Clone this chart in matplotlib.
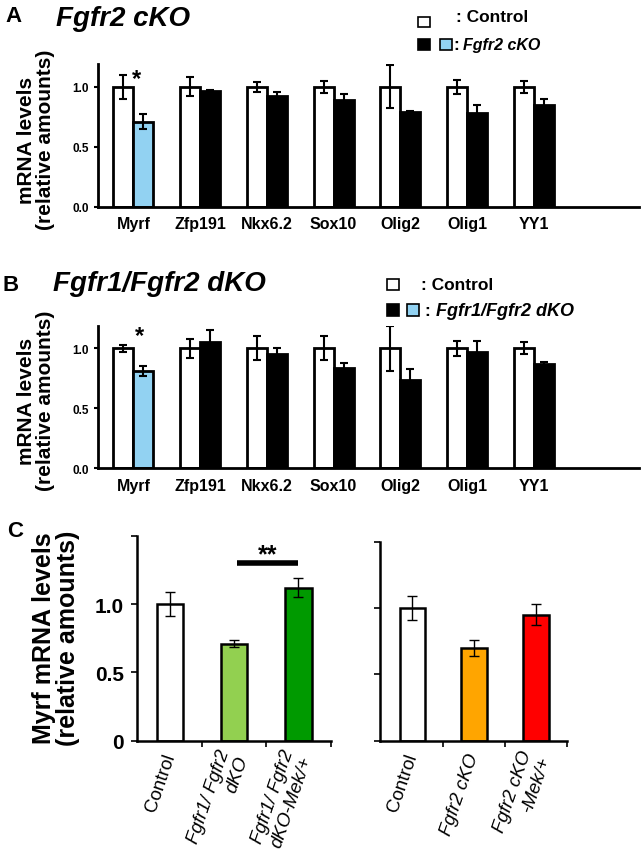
import numpy as np
import matplotlib
matplotlib.use('Agg')
import matplotlib.pyplot as plt
from matplotlib.patches import Rectangle

plt.rcParams['font.family'] = ['Liberation Sans', 'DejaVu Sans']

W, H = 642, 853

genes = ['Myrf', 'Zfp191', 'Nkx6.2', 'Sox10', 'Olig2', 'Olig1', 'YY1']

# panel A: Fgfr2 cKO
a_ctrl = [1.0, 1.0, 1.0, 1.0, 1.0, 1.0, 1.0]
a_ctrl_err = [0.10, 0.08, 0.04, 0.05, 0.18, 0.06, 0.05]
a_ko = [0.71, 0.965, 0.925, 0.89, 0.79, 0.78, 0.85]
a_ko_err = [0.063, 0.01, 0.035, 0.05, 0.01, 0.07, 0.05]

# panel B: Fgfr1/Fgfr2 dKO
b_ctrl = [1.0, 1.0, 1.0, 1.0, 1.0, 1.0, 1.0]
b_ctrl_err = [0.03, 0.08, 0.10, 0.10, 0.19, 0.06, 0.05]
b_ko = [0.81, 1.05, 0.95, 0.84, 0.74, 0.97, 0.87]
b_ko_err = [0.04, 0.10, 0.05, 0.04, 0.09, 0.09, 0.02]

# panel C
c1_labels = ['Control', 'Fgfr1/ Fgfr2\ndKO', 'Fgfr1/ Fgfr2\ndKO-Mek/+']
c1_vals = [1.0, 0.71, 1.12]
c1_err = [0.09, 0.028, 0.07]
c1_colors = ['white', '#92d050', '#009a00']
c2_labels = ['Control', 'Fgfr2 cKO', 'Fgfr2 cKO\n-Mek/+']
c2_vals = [1.0, 0.70, 0.95]
c2_err = [0.09, 0.058, 0.08]
c2_colors = ['white', '#ffa500', '#ff0000']

light_blue = '#92d2f2'


def px_axes(fig, x0, y0, x1, y1):
    # pixel box (top-left origin) -> figure axes
    return fig.add_axes([x0 / W, 1 - y1 / H, (x1 - x0) / W, (y1 - y0) / H])


def ftext(fig, x, y, s, **kw):
    return fig.text(x / W, 1 - y / H, s, **kw)


def fbox(fig, x, y, w, h, color):
    fig.add_artist(Rectangle((x / W, 1 - (y + h) / H), w / W, h / H,
                             transform=fig.transFigure, facecolor=color,
                             edgecolor='black', linewidth=1.2))


def gene_panel(ax, ctrl, ctrl_err, ko, ko_err):
    x = np.arange(len(genes))
    w = 0.3
    ko_colors = [light_blue] + ['black'] * (len(genes) - 1)
    ekw = dict(ecolor='black', elinewidth=1.5, capsize=3, capthick=1.5)
    ax.bar(x - w / 2, ctrl, w, color='white', edgecolor='black', linewidth=2,
           yerr=ctrl_err, error_kw=ekw, zorder=2)
    ax.bar(x + w / 2, ko, w, color=ko_colors, edgecolor='black', linewidth=2,
           yerr=ko_err, error_kw=ekw, zorder=2)
    ax.set_xlim(-0.525, 7.57)
    ax.set_ylim(0, 1.19)
    ax.set_xticks(x)
    ax.set_xticklabels(genes, fontsize=11.5, fontweight='bold')
    ax.tick_params(axis='x', length=0, pad=7)
    ax.set_yticks([0, 0.5, 1.0])
    ax.set_yticklabels(['0.0', '0.5', '1.0'], fontsize=8.5, fontweight='bold')
    ax.tick_params(axis='y', length=3, width=1.5, pad=4)
    for s in ['top', 'right']:
        ax.spines[s].set_visible(False)
    for s in ['left', 'bottom']:
        ax.spines[s].set_linewidth(2)


def myrf_panel(ax, labels, vals, err, colors, show_labels):
    x = np.arange(len(vals))
    ax.bar(x, vals, 0.41, color=colors, edgecolor='black', linewidth=1.8,
           yerr=err, error_kw=dict(ecolor='black', elinewidth=1.0, capsize=3.5, capthick=1.0),
           zorder=2)
    ax.set_xlim(-0.52, 2.5)
    ax.set_ylim(0, 1.5)
    ax.set_yticks([0, 0.5, 1.0, 1.5])
    if show_labels:
        ax.set_yticklabels(['0', '0.5', '1.0', ''], fontsize=15, fontweight='bold')
    else:
        ax.set_yticklabels([])
    ax.tick_params(axis='y', length=4, width=1.2, pad=5)
    ax.set_xticks(x)
    ax.set_xticks([0.5, 1.5, 2.5], minor=True)
    ax.tick_params(axis='x', which='major', length=0, pad=9)
    ax.tick_params(axis='x', which='minor', length=4, width=1.2, direction='out')
    ax.set_xticklabels(labels, fontsize=13.5, rotation=71, ha='right',
                       rotation_mode='anchor', va='center', multialignment='right')
    for t, lab in zip(ax.get_xticklabels(), labels):
        if lab.startswith('Fgfr'):
            t.set_style('italic')
    for s in ['top', 'right']:
        ax.spines[s].set_visible(False)
    for s in ['left', 'bottom']:
        ax.spines[s].set_linewidth(1.8)


fig = plt.figure(figsize=(W / 100, H / 100), dpi=100)

# ---- A ----
axA = px_axes(fig, 98.3, 65.2, 638.5, 207.5)
gene_panel(axA, a_ctrl, a_ctrl_err, a_ko, a_ko_err)
axA.text(0.05, 1.07, '*', fontsize=17, fontweight='bold', ha='center', va='center')
ftext(fig, 5, 21.7, 'A', fontsize=16, fontweight='bold', va='baseline')
ftext(fig, 56, 25.5, 'Fgfr2 cKO', fontsize=20, fontweight='bold', style='italic', va='baseline')
ftext(fig, 36, 140, 'mRNA levels\n(relative amounts)', fontsize=15, fontweight='bold',
      rotation=90, ha='center', va='center', multialignment='center', linespacing=1.0)
fbox(fig, 418, 18, 12, 10, 'white')
fbox(fig, 418, 39.5, 12, 11, 'black')
fbox(fig, 440, 39.5, 12, 11, light_blue)
ftext(fig, 456, 21.7, ': Control', fontsize=12.5, fontweight='bold', va='baseline')
ftext(fig, 453, 50, ':', fontsize=12.5, fontweight='bold', va='baseline')
ftext(fig, 463, 50, 'Fgfr2 cKO', fontsize=11.5, fontweight='bold', style='italic', va='baseline')

# ---- B ----
axB = px_axes(fig, 98.3, 326.5, 638.5, 469.3)
gene_panel(axB, b_ctrl, b_ctrl_err, b_ko, b_ko_err)
axB.text(0.085, 1.11, '*', fontsize=17, fontweight='bold', ha='center', va='center')
ftext(fig, 3, 291.5, 'B', fontsize=16, fontweight='bold', va='baseline')
ftext(fig, 53, 291, 'Fgfr1/Fgfr2 dKO', fontsize=20, fontweight='bold', style='italic', va='baseline')
ftext(fig, 36, 401, 'mRNA levels\n(relative amounts)', fontsize=15, fontweight='bold',
      rotation=90, ha='center', va='center', multialignment='center', linespacing=1.0)
fbox(fig, 387, 280, 12, 11, 'white')
fbox(fig, 387, 305, 12, 12, 'black')
fbox(fig, 407, 305, 12, 12, light_blue)
ftext(fig, 421, 290, ': Control', fontsize=12.5, fontweight='bold', va='baseline')
ftext(fig, 424, 316, ':', fontsize=12.5, fontweight='bold', va='baseline')
ftext(fig, 436, 316, 'Fgfr1/Fgfr2 dKO', fontsize=13, fontweight='bold', style='italic', va='baseline')

# ---- C ----
axC1 = px_axes(fig, 136.5, 536.7, 330.5, 741.7)
myrf_panel(axC1, c1_labels, c1_vals, c1_err, c1_colors, True)
axC1.plot([1.04, 2.0], [1.30, 1.30], color='black', lw=4, solid_capstyle='butt')
axC1.text(1.52, 1.365, '**', fontsize=18, fontweight='bold', ha='center', va='center')

axC2 = px_axes(fig, 380, 543, 567, 741.7)
myrf_panel(axC2, c2_labels, c2_vals, c2_err, c2_colors, False)

ftext(fig, 7, 537, 'C', fontsize=16, fontweight='bold', va='baseline')
ftext(fig, 56, 638, 'Myrf mRNA levels\n(relative amounts)', fontsize=18, fontweight='bold',
      rotation=90, ha='center', va='center', multialignment='center', linespacing=0.95)

fig.savefig('out.png', dpi=100)
